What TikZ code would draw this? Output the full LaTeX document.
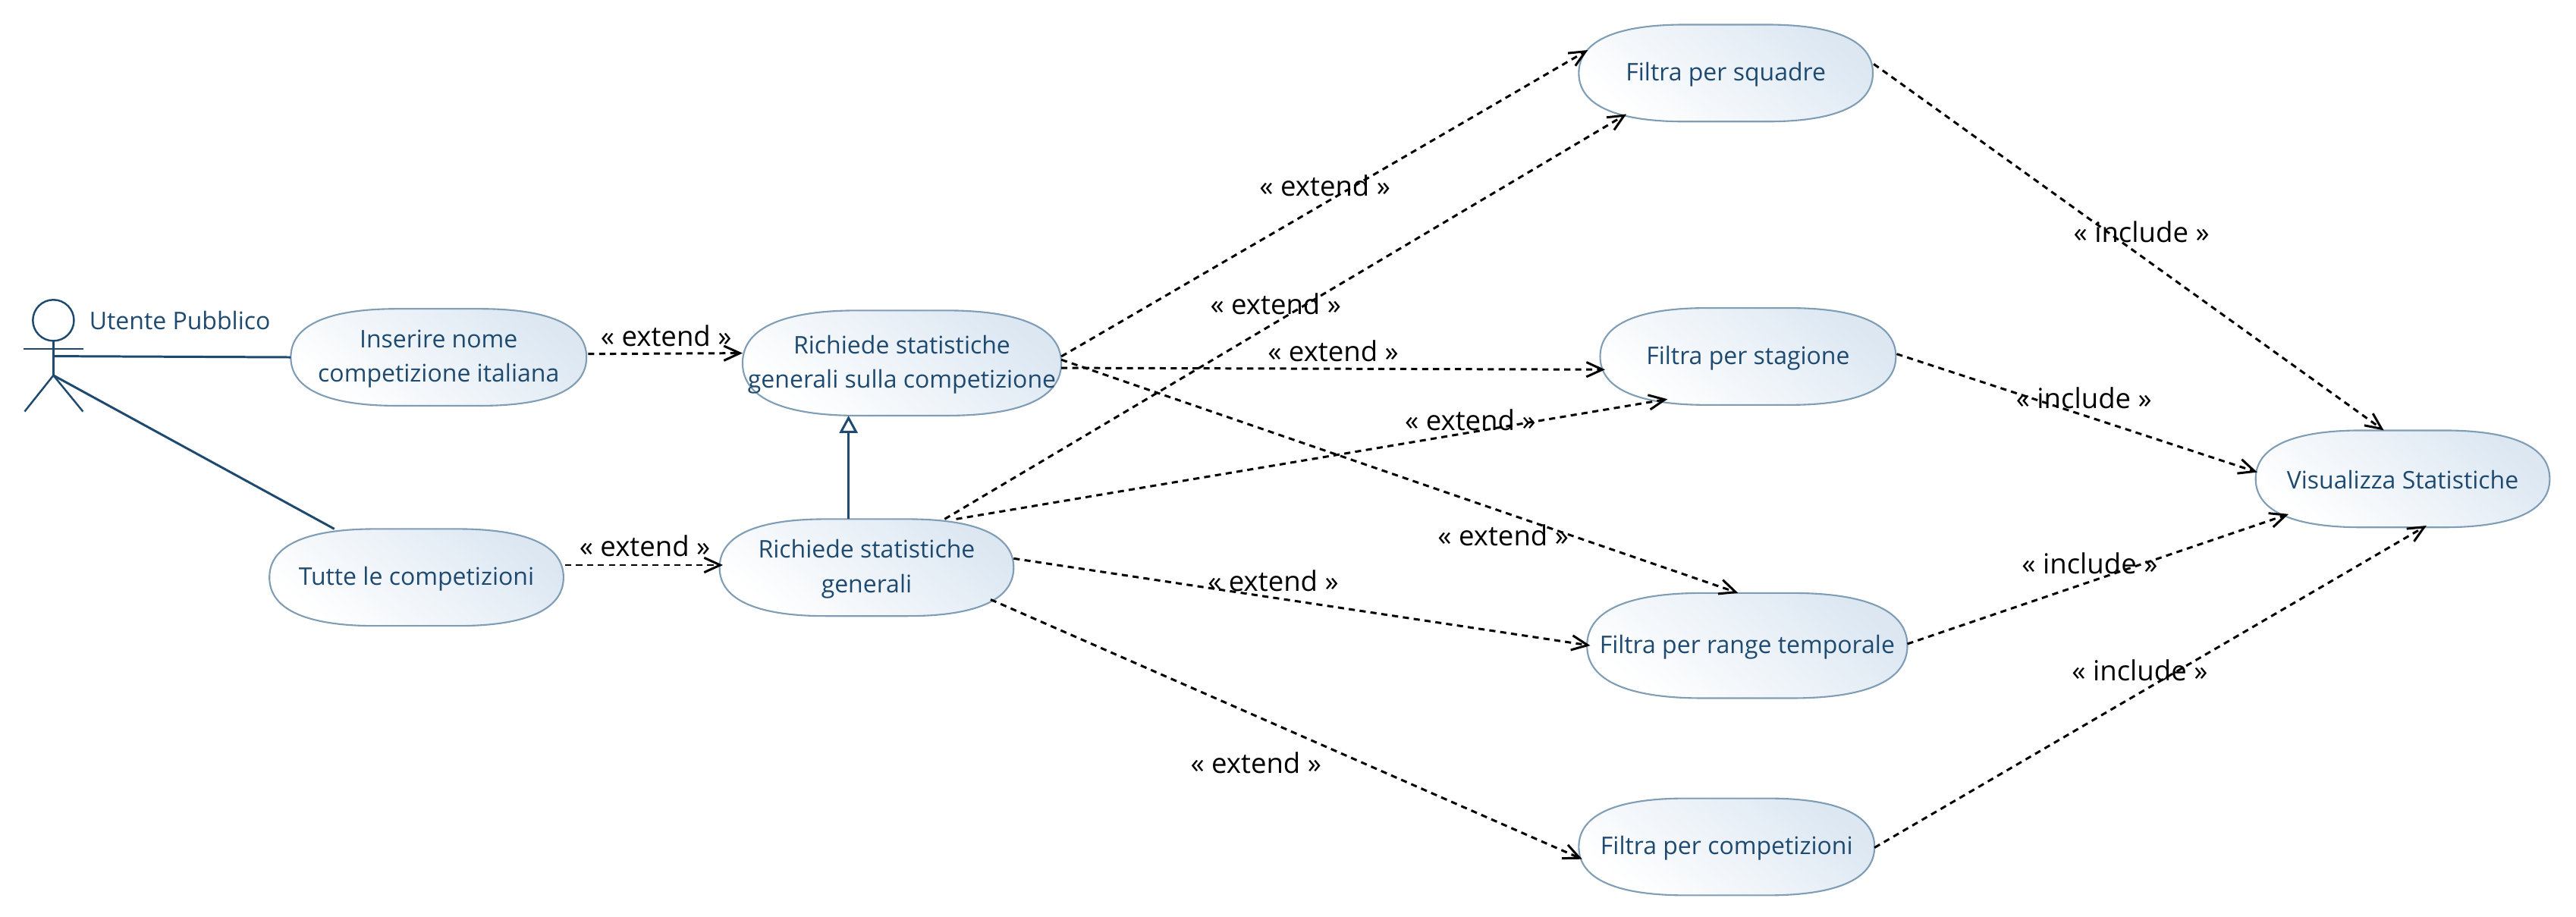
\documentclass[tikz,border=0pt]{standalone}
\usepackage{fontspec}
\setmainfont{Open Sans}
\usetikzlibrary{arrows.meta}
\usetikzlibrary{calc}

\definecolor{caseblue}{HTML}{1F4A70}
\definecolor{caseedge}{HTML}{7F9DB5}
\definecolor{casefill}{HTML}{DCE7F2}

\tikzset{
    useshape/.style={draw=caseedge, line width=0.6pt, left color=white, right color=casefill, shading angle=142},
    usetext/.style={text=caseblue, font=\fontsize{9.1}{13}\selectfont, align=center, inner sep=0pt, yshift=-0.6pt},
    stereo/.style={text=black, font=\fontsize{10.4}{12}\selectfont, inner sep=0pt, yshift=0.4pt},
    assoc/.style={draw=caseblue, line width=0.85pt},
    depend/.style={draw=black, line width=0.85pt, dash pattern=on 2.3pt off 1.8pt, -{Straight Barb[length=6pt,width=5.5pt]}}
}

% name, x, y, width, height, text
\newcommand{\usecase}[6]{
    \path[useshape, shift={(#2,#3)}, xscale=#4/2, yscale=#5/2]
        (-1,0) .. controls (-1,0.7) and (-0.72,1) .. (-0.28,1) -- (0.28,1)
        .. controls (0.72,1) and (1,0.7) .. (1,0)
        .. controls (1,-0.7) and (0.72,-1) .. (0.28,-1) -- (-0.28,-1)
        .. controls (-0.72,-1) and (-1,-0.7) .. (-1,0) -- cycle;
    \node[usetext] (#1) at (#2,#3) {#6};
}

\begin{document}
\begin{tikzpicture}[x=0.021658cm, y=-0.021658cm]
            \useasboundingbox (0,0) rectangle (1568,557.76);

            \usecase{inserire}{267}{217.5}{180}{59}{Inserire nome\\competizione italiana}
            \usecase{tutte}{253.5}{351.5}{179}{59}{Tutte le competizioni}
            \usecase{generalicomp}{549}{221}{194}{64}{Richiede statistiche\\generali sulla competizione}
            \usecase{generali}{527.5}{345.5}{179}{59}{Richiede statistiche\\generali}
            \usecase{squadre}{1050.5}{44.5}{179}{59}{Filtra per squadre}
            \usecase{stagione}{1064}{217}{180}{59}{Filtra per stagione}
            \usecase{range}{1063.5}{393}{195}{64}{Filtra per range temporale}
            \usecase{competizioni}{1051}{515.5}{180}{59}{Filtra per competizioni}
            \usecase{visualizza}{1462.5}{291.5}{179}{59}{\raisebox{0.6pt}{Visualizza Statistiche}}

            % actor
            \coordinate (neck) at (32.5,208);
            \coordinate (hip) at (32.5,228.5);
            \draw[assoc, line width=0.7pt] (32.5,195) circle (12.5);
            \draw[assoc, line width=0.7pt] (neck) -- (hip);
            \draw[assoc, line width=0.7pt] (14.5,212.5) -- (51,212.5);
            \draw[assoc, line width=0.7pt] (15,250.5) -- (hip) -- (50.5,250.5);
            \node[usetext] (utente) at (109.5,194) {Utente Pubblico};

            \draw[assoc] ($(neck)!0.43!(hip)$) -- ($(inserire)+(-90,-1)$);
            \draw[assoc] (hip) -- ($(tutte)+(-50,-30.5)$);

            \draw[depend] ($(inserire)+(91,-3)$) -- ($(generalicomp)+(-97,-7)$);
            \draw[depend] ($(tutte)+(90.5,-8.5)$) -- ($(generali)+(-87.5,-2.5)$);
            \draw[draw=caseblue, line width=0.85pt, -{Triangle[open, length=6.5pt, width=6.8pt]}] ($(generali)+(-11,-30.5)$) -- ($(generalicomp)+(-32.5,31)$);

            \draw[depend] ($(generalicomp)+(97,-5)$) -- ($(squadre)+(-84,-15)$);
            \draw[depend] ($(generali)+(47.5,-30.5)$) -- ($(squadre)+(-60.5,24)$);
            \draw[depend] ($(generalicomp)+(97,2)$) -- ($(stagione)+(-87,7)$);
            \draw[depend] ($(generali)+(54.5,-30.5)$) -- ($(stagione)+(-49,25)$);
            \draw[depend] ($(generalicomp)+(97,-3)$) -- ($(range)+(-5.5,-33)$);
            \draw[depend] ($(generali)+(89.5,-6.5)$) -- ($(range)+(-95.5,-1)$);
            \draw[depend] ($(generali)+(75.5,18.5)$) -- ($(competizioni)+(-88,6.5)$);

            \draw[depend] ($(squadre)+(90,-6.5)$) -- ($(visualizza)+(-11.5,-30.5)$);
            \draw[depend] ($(stagione)+(90.5,-2.5)$) -- ($(visualizza)+(-88.5,-5)$);
            \draw[depend] ($(range)+(97.5,-2)$) -- ($(visualizza)+(-69.5,20.5)$);
            \draw[depend] ($(competizioni)+(90,-0.5)$) -- ($(visualizza)+(14.5,27.5)$);

            \node[stereo] (extinserire) at (405.5,205) {« extend »};
            \node[stereo] (exttutte) at (392.5,333) {« extend »};
            \node[stereo] (extsqa) at (806.5,113.5) {« extend »};
            \node[stereo] (extsqb) at (776.5,185.5) {« extend »};
            \node[stereo] (extsta) at (811.5,214.5) {« extend »};
            \node[stereo] (extstb) at (895,256.5) {« extend »};
            \node[stereo] (extraa) at (915,326.5) {« extend »};
            \node[stereo] (extrab) at (775,354) {« extend »};
            \node[stereo] (extcom) at (764.5,465) {« extend »};

            \node[stereo] (incsq) at (1303.5,142) {« include »};
            \node[stereo] (incst) at (1268.5,243) {« include »};
            \node[stereo] (incra) at (1272,343.5) {« include »};
            \node[stereo] (inccom) at (1302.5,408.5) {« include »};
        \end{tikzpicture}
\end{document}
